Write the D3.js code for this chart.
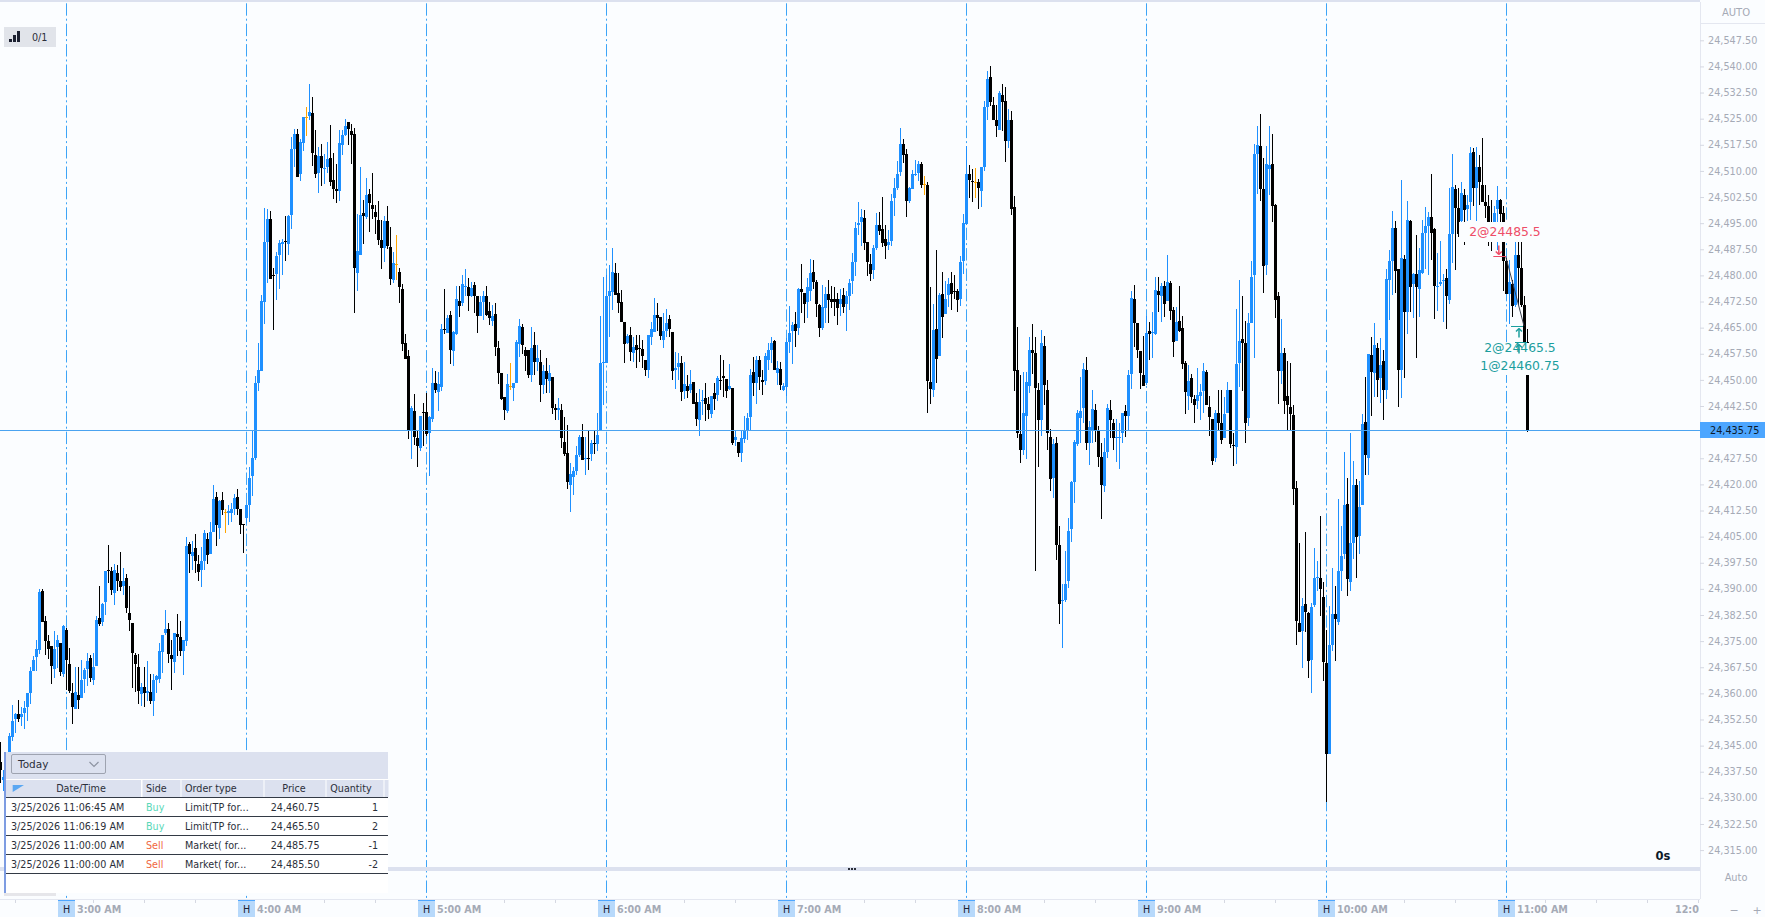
<html>
<head>
<title>NQ 1 minute chart</title>
<script src="https://d3js.org/d3.v7.min.js"></script>
<style>
  body { margin: 0; background: #fbfdff; overflow: hidden; }
  svg { display: block; font-family: "DejaVu Sans", sans-serif; }
  .y.axis .domain { stroke: none; }
  .y.axis line { stroke: #d5d8e2; }
  .y.axis text { fill: #a5aab6; font-size: 9.7px; font-family: "DejaVu Sans", sans-serif; }
  .cell { font-size: 9.6px; fill: #2b2f3a; }
</style>
</head>
<body>
<svg id="chart" width="1765" height="917"></svg>
<script>
// bars are [open, high, low, close], points above priceBase, one per minute
const priceBase = 24000;
const firstBar = new Date(2026, 2, 25, 2, 38);
const bars02 = [[340.3,346,334.3,338],[335,338,332,336],[336,339,334,338],[338,348.5,336,347.8],[347.5,356.7,346.2,352],[352.7,354.5,348.5,354.2],[354.2,358.1,351.9,352.7],[353.3,356,350.5,354],[354.3,357.7,349.8,355.8],[356.2,360,352,360],[360,367.7,357,366.5],[366.5,370.6,366.3,369.6],[370.3,375.4,366.3,372.8],[372.5,390,371.3,389],[389.4,390,380.6,380.6],[380.8,382.3,371.1,375.1],[375,376.8,369.9,372.8],[373.6,373.6,362.7,367.9],[367,378,364.4,372.8],[373.3,376.8,367.2,375.4],[374.5,374.5,365,366.2],[365.6,379.7,364.8,379.4]];
const bars03 = [[378.2,378.8,361,369.6],[368.5,373,360,360.7],[360.1,362.9,351.2,356.1],[355.6,367.5,355.5,360.3],[359.6,367.7,355.5,358.1],[358.7,369.6,358.6,363.9],[364.1,367.2,360,366.7],[366.9,371.5,362.2,369.3],[370.2,371.1,363.4,364.5],[363.9,371.5,362.4,367.6],[367.9,382.1,367.9,381.1],[381.7,390.9,379.2,380],[380.5,385.9,379.4,385.7],[386.3,395.2,382.5,395.2],[395.4,402.6,391.8,395],[395.1,396.2,388.3,389.7],[388.9,397.2,385.4,395.5],[394.6,396.9,389.4,392.3],[392.3,400.6,389.5,390.6],[390.9,396,388.3,392.3],[393.2,394.3,383,384.5],[383.1,390.9,377.8,381.1],[380.2,380.2,361.5,371.6],[371.1,371.5,360.5,368.5],[367.6,371.3,357,360.7],[359.9,362.9,356.4,361.9],[361.9,367.7,356,360.1],[360.2,369.3,357.8,360.7],[360.4,365.6,357,357.8],[357.8,365.6,353.6,363.9],[363.9,365.3,360,365],[364.2,374.6,363.1,372.2],[371.9,376.8,365.8,376.8],[377.4,384,376.8,378.5],[378.5,380.2,368.7,371.3],[371,375.4,361,369.9],[369,377.4,365.8,377.4],[377.1,382.8,370.8,376.2],[376.2,380.8,370.8,372.2],[372.2,375.4,365.3,375.4],[375.1,405,373.6,402.3],[402.9,403.5,394.6,400],[399.5,403.8,395.5,400.6],[401.8,405.8,394.6,398],[397.2,399.8,392.3,394.9],[395.5,402.1,390.6,398],[398,406.8,395.5,406.1],[404.4,406,397.2,399.8],[400,409.2,400,406.4],[406.4,419.9,406.4,415.8],[416.4,417.8,402.4,408.4],[407.5,415.6,404.4,415.3],[415.6,417.9,411.3,412.7],[412,413,406.1,412],[411.8,414.1,408.4,412.4],[411.8,414.6,409.3,413],[413,417.3,411.3,416.1],[416.4,418.7,411.3,412.9],[413,413,405.8,408.4],[408.7,408.7,400.4,408.2]];
const bars04 = [[410.4,414.1,409,414.1],[414.1,425.1,409.2,421.9],[422.5,435.7,416.7,427.6],[427.6,451.1,427,449.1],[449.1,460.5,446.9,452.9],[452.6,474.4,452.6,472.7],[472.4,499.4,466.1,489.6],[489.6,499.1,477.9,496.2],[496.2,498.5,479,479],[480.2,482.1,464.2,479.9],[480.4,486.8,472.8,485.6],[485.9,490.2,476.2,489.3],[489.1,490.5,480.1,489.6],[489.9,497.1,484,489.7],[489.1,497.4,485.9,497.1],[497.4,519.8,493.4,516.3],[516.3,522,511.2,520.6],[520.6,522,508.3,508.3],[509.1,519.2,507.1,518.3],[518.1,525.5,515.8,525.5],[525.4,528.4,520,525.4],[525.8,535,524.5,526.9],[526.7,531.2,511.4,515.2],[514.6,521.8,508,509.1],[509.4,516.9,503.7,514.3],[514.3,517.8,505.7,510.9],[510.6,514.9,506.3,510.9],[511.2,518.3,509.3,513.5],[513.7,523.2,505.7,506.8],[507.4,515.2,502,504.8],[504.8,512,500.9,504.3],[504.3,521.8,501.4,518],[517.5,521.8,514.6,520.3],[520.3,524.9,520,522.9],[524,524,517.5,522],[521.5,523.5,512,520.3],[520.6,522.3,469.2,482.2],[480.7,497.7,475.6,487],[485.9,511.2,485.9,497.4],[497.9,501.7,489.1,497.1],[496.8,508,496.2,503.1],[503.4,504.8,492.5,500.8],[500.2,509.4,496.2,499.1],[498.2,500.2,491.9,496.8],[495.9,501.4,488.8,490.2],[490.2,495.9,481.9,487.9],[487.9,497.1,483.9,495.6],[495.6,500,487.6,488.5],[488.2,493.9,477.3,479],[478.7,486.8,477.8,483.6],[483.2,491.6,478.7,483.2],[481,482.2,472.1,476.7],[476.1,477.6,458.3,460.3],[460.6,463.2,456,456],[456.9,458.6,433,435.7],[435.7,442.5,427.3,442],[441.1,446,431.3,433.6],[433.4,435.7,425.1,431.1],[430.5,439.7,429.7,439.7],[440.7,443.3,430.9,440.4]];
const bars05 = [[440.8,446.2,434,434.5],[434.7,439.5,422.3,439.3],[438.8,453.4,438,449.1],[449.1,452.6,446.2,447.1],[446.6,452.4,441,448.9],[448,466,446.8,464.6],[464.6,476.1,463.2,464.4],[463.5,468.7,463.4,467.8],[468.7,469.8,454.6,458.6],[458.3,463.9,454,463.8],[463.2,477,462.9,473.3],[472.7,477,468.1,471.3],[472.1,480.2,471.1,477.6],[476.8,481.9,474,477],[476.7,479.2,469.8,474.1],[474.1,478,473.9,476.4],[477.3,478,469.1,474.1],[474.1,474.1,463.5,468.4],[468.4,474.1,468.4,472.4],[472.4,475.4,467.2,474.1],[474.1,477,468.4,468.7],[469.8,472.4,465.8,467.8],[467,471.4,465.5,468.4],[469,472.2,456.9,459.5],[459.2,461.2,448.9,452],[452,452.1,444.3,444.6],[445.1,445.1,438.5,441.4],[441.1,451.7,440.5,448.8],[448.2,454.9,447.1,448.2],[447.7,449.1,444,449.1],[449.1,461.5,449.1,460.9],[460.3,467.5,456.6,465.5],[465.2,466.1,457.5,460],[458.6,459.5,452.6,456.9],[458.6,458.6,450.5,451.4],[451.4,465.2,449.4,459.2],[460,463.8,451.4,455.2],[455.2,460,452.6,456.3],[455.2,458.6,443.7,448.6],[448.6,454.3,446,452.6],[452.6,456.3,446.3,450.3],[449.7,454.3,446.3,452],[450.9,450.9,440.3,442],[442,443.1,438.5,441.4],[441.4,444.8,438.5,442],[441.4,443.1,430.5,433.4],[432.2,439.4,428.2,428.8],[429.1,437.1,418.7,420.7],[419.9,426.1,412,423],[422.2,425.1,417,423.9],[423.9,430.9,422.7,428.5],[428.5,434.2,428,433.6],[433.6,437.4,427,427],[427.2,433.7,422.7,427.6],[427.6,435.6,424.2,427.3],[428.8,432.8,426.8,431.9],[432,435.6,428.8,431.8],[431.6,440.4,429.7,434.2],[435.4,468.4,435.4,454.9],[454.8,479.6,442.8,455]];
const bars06 = [[454.9,480.2,454.9,474.1],[474.1,483,462.4,475.6],[475.3,487.9,470.1,481],[480.7,483.5,474.4,474.4],[475,480.6,469.1,472.1],[472.4,475.8,466.7,466.7],[466.7,466.7,454.9,460.3],[460.6,463.2,460.3,462.6],[462.9,465.2,455.5,458],[457.8,462.4,455.2,459.5],[460,462.9,453.5,458.7],[459.1,462.9,455.2,458.9],[458.9,461.5,453.5,456.9],[455.7,455.7,451.1,452.9],[452.9,462.9,450.6,462.9],[462.3,466.5,460,464.6],[463.8,473.5,463.8,468.7],[468.7,472,463.9,467.8],[468.1,468.2,461.5,462.6],[461.5,469.1,459.2,464.1],[464.1,470.4,462.4,466.4],[467.5,468.7,462.4,464.6],[463.8,463.8,450,452.6],[452.9,458.1,447.4,453.5],[453.7,457.7,450,454.9],[454.9,456.9,444,446.6],[446.8,455.2,444.5,448.8],[448.3,451.4,444.8,446.8],[447.1,452.7,446.2,448.8],[449.4,449.4,443.1,443.1],[443.7,446.2,436.8,438.8],[438.5,447.4,434,443.7],[444.1,447.1,440,444.3],[444.8,449.1,438.2,443.1],[443.1,445.2,438.8,441.4],[440.2,445.4,439,445.4],[446.3,449.1,441.4,444.6],[445.7,451.2,444,450.6],[450,457.2,447.1,449.7],[451.2,455.7,445.2,450.6],[450.3,450.3,444.8,446.8],[447.4,454.6,447.1,448.3],[447.7,447.7,431.3,431.9],[432.8,435.6,430.9,433.6],[432.2,432.2,428,429.1],[429.1,435.6,426.5,433.4],[433.1,439.5,431.8,435.6],[435.4,440.4,432.8,439.1],[439.4,453.1,435.2,451.4],[452.3,456.7,445.4,449.1],[449.1,456.9,443.1,455.7],[455.7,456.9,447.1,450.9],[450,452.9,445.7,449.4],[449.7,457.7,448.6,456.9],[455.7,460.5,452.9,458.6],[458.6,462.4,454.8,460.6],[461.2,461.5,452.9,452.9],[452,455.3,448.6,453.5],[453.2,455,447.1,448.6],[447.1,449.1,446.7,448.3]];
const bars07 = [[448,462,445.4,460.9],[460.9,471.3,457.7,463.5],[464.1,466.5,454.6,465.8],[466.1,469.5,459.5,464.1],[465,476.3,462.9,476.1],[476.1,483.3,469.1,475.3],[475,475,466.3,471.8],[472.4,479.2,467.7,476.7],[475.6,484.7,472.7,480.7],[481,484.5,476,478.1],[478.1,478.7,468.2,471.8],[471.5,471.8,462.4,465],[465,477.3,464.4,471],[470.7,476.8,466.3,474.7],[474.7,478.7,466.3,473],[473.3,477,470.6,472.4],[473.3,476.8,468.4,472.4],[473.3,474.9,465.8,470.7],[471.8,476,468.4,473.3],[474.4,476.3,469.1,471],[471.8,475.4,464.1,474.1],[474.1,479,470.1,477.8],[478.4,486.4,474.7,483.9],[483.9,495.4,479.7,493.6],[494.5,501.1,491.6,495.1],[495.4,499.1,488.3,496.8],[496.5,498.8,487.3,489.3],[489.6,489.6,479.9,483.9],[483.3,486.2,478.5,480.4],[481.6,488.8,479,487.9],[487.9,497.9,487.3,494.5],[494.5,498.1,491.6,492.8],[493.4,502.5,488.2,489.3],[490.5,494.5,484.7,488.5],[488.8,493.1,487.3,489.6],[489.9,503.4,488.3,501.4],[502.2,508,497.1,505.1],[505.1,512.9,504.6,509.1],[509.7,522.4,508.6,517.8],[517.8,519.2,512.3,514.6],[514.9,516.3,496.8,501.4],[501.4,505.5,500.7,505.1],[504.8,510.3,504.8,509.1],[508.9,513.2,508.4,509.1],[509.4,512.9,507.1,512],[512.1,512.5,505.1,506],[506.2,508.6,503.2,506.2],[506,506.7,440.6,449.6],[449.3,476.7,443,447.4],[447,471.8,445.2,464.4],[464.6,487.3,449,455.9],[456.8,474.9,456.8,474.3],[474.6,480.9,461.9,468],[469,478.4,469,473.2],[474.3,479.3,471,477.6],[477.8,480.9,470.2,474.6],[475.6,480.1,473.2,475.3],[475.5,476.2,469.6,473],[473.3,485.6,471.2,483.9],[484.2,497.6,480.4,495.1]];
const bars08 = [[494.7,517.1,494.6,509.2],[509.2,511.8,502.3,507.3],[507.2,510.6,501.2,507],[506.7,510.9,502.1,506.7],[506.9,507.6,499.2,505.1],[504.3,511.2,499.7,511.2],[511.2,530,510,528.4],[528.4,538.6,524.6,536.3],[537.1,540.1,528.7,529.7],[528.9,531.2,524.6,524.7],[524.7,528.9,519.6,522.8],[521.8,533,521.8,532.3],[531.7,535,521.6,529.7],[530,534.2,512.6,518.5],[518.5,527.9,516.6,524.6],[524.6,527.3,497.4,499.2],[499.7,502.9,446.8,452.6],[452.9,465.2,433.4,434.8],[434.6,451.5,426,430],[430,452.3,428.5,440.5],[439.7,452.3,427.4,449.5],[448.3,462.2,446.3,458.7],[458.7,466.1,451.6,457.8],[457.7,462.2,395.2,447.6],[447.2,449,424.9,438.6],[438.6,464.2,434,460.6],[459.8,462.6,442.8,448.6],[447.2,450.1,430,434.8],[433.7,435.9,418,421.6],[421.9,433.1,416.1,431.5],[431.8,433.7,398.2,402.7],[402.7,408.1,380,385.6],[386.4,391.4,373.1,386.9],[386.9,401,386.3,391.5],[392.2,410.4,390.3,406.6],[407.2,421,403.4,420.8],[420.7,432.6,414.7,432.2],[431.6,441.3,430.9,440.5],[439,450.9,432,441.1],[442,454.9,437.5,453.1],[452.9,456.7,430,432],[431.8,438.1,425.6,436.6],[435.5,447.2,432,441.7],[441.3,443,432.2,435.5],[435.3,436.9,424.9,427.9],[427.9,432,410,419.9],[419.4,433.3,417.7,429.4],[429.4,443,427.6,442],[441.3,444.3,433.3,438.4],[437.5,438.8,429.8,433.3],[433.3,438.8,426.5,433.7],[433.3,437.5,424.3,433.7],[434.7,440.6,432,440.5],[441.1,442.7,433.7,439.5],[439.7,452.9,435.3,451.5],[451.8,475.4,447.4,473.5],[473.2,477.3,459.5,466.3],[466.3,466.3,456.2,458.7],[458.4,458.4,447.3,452.1],[451.5,462.5,448.3,448.3]];
const bars09 = [[449,468.3,448.5,463.6],[464.1,466.5,455.6,463.3],[463.4,469.4,456.2,463.8],[463.1,479.5,462.8,475.8],[475.6,479.5,469.4,474.3],[474,477.8,466.5,477],[477,478.4,468,471.9],[472.7,485.8,472.7,478.1],[477.8,478.4,467.2,469.7],[470.2,471,456.7,460.8],[461.3,471,461.1,466.6],[466.8,477.1,463.7,464.1],[464.9,468.4,453,454.6],[454.9,455.5,440.1,446.4],[445.4,454.2,441.4,449.7],[450.6,451.7,443.4,445.1],[444.6,445.8,437.5,442.9],[443.8,453.3,441.7,445.8],[445.4,448.9,438.5,446.6],[446.9,454.9,440.4,452.6],[452.4,452.9,442.7,442.9],[442.2,445.4,433.9,439.4],[438.8,438.8,425.6,426.6],[427.6,441.4,426.5,440.5],[440.5,447,435.2,437.7],[437.7,447,431.5,432.8],[433.4,445.1,433.4,440.2],[440.5,449.4,440.5,447.1],[447.1,447.1,430.5,431.5],[431.4,434.8,425.2,431.1],[430.6,470.4,425.8,454.6],[454.9,478.6,448,461.2],[461.8,474.1,446.9,460.6],[460.6,466.8,431.8,437.7],[439.2,469.1,436.8,466.3],[466.3,484,466.3,479.6],[480.2,517.6,456.3,514.8],[514.8,522.8,503.4,517.5],[517.2,526.4,501.4,504.8],[504.8,513.6,475,482.7],[482.9,517.2,480,512.1],[510.6,522.8,503.1,511.8],[512.1,520.6,495.3,499.9],[500.3,500.6,467.8,473],[474,475.3,443,452.6],[452.6,467.5,448.9,457.6],[457.8,459.2,440.1,443.9],[445.4,455.5,435.2,442.9],[442.2,454.9,435.2,440.2],[439.9,442.7,414.2,418.6],[419,421,373.9,380.8],[380.2,403.2,377.5,377.6],[378,387.4,367.4,385],[385.6,406.3,377.7,383.3],[383,383.4,364.3,369.2],[369.7,386,360,384.8],[385.4,401.6,384.9,393.2],[393,397.9,389.3,393.3],[393.2,410.9,382.3,390.1],[387.8,392,363.5,368.9]];
const bars10 = [[368.8,378.1,328.7,342.5],[342.5,385.1,342.5,374],[374,395.9,372.2,382.7],[382.7,390.9,369.3,381.3],[380.5,415.9,379.7,395.1],[395.1,408,389.3,399.5],[400.1,429.3,398.6,414.1],[414.4,421.9,388,392.8],[392,434.8,389.3,403.2],[403.2,426.8,398.6,419.9],[419.9,421.6,393,405],[405.2,421,399.9,413.6],[414,440.2,414,437.3],[438,450.9,422.7,428.4],[427.7,457.5,422.7,457.5],[457.2,462.2,439.7,452.3],[452.1,466.3,445,460],[459.2,460.5,445.1,450],[450.6,462.1,443.4,454.3],[455.5,458.5,438.6,447],[447.2,481.9,444.4,479],[478.8,487.3,467.1,484.1],[484.1,498.5,474.4,493.6],[493.6,495.5,475,481.2],[481.8,481.8,442.1,452.9],[452.7,507.3,444.7,484.9],[484.8,485.8,450.6,469.4],[469.5,501.4,463.2,495.9],[495.6,495.9,469.5,476.6],[477.5,480.6,467.8,480.4],[480.4,491.6,456.3,476.6],[476.2,487.9,468,481.5],[480.6,495.9,480.3,492.2],[492.2,499.5,481.9,494.3],[494.3,498.2,480,496.8],[496.8,509.2,484.3,492.2],[493.4,493.7,467.6,476.9],[476.7,486.5,469.7,477],[477.5,490,477,478.2],[478.5,480.3,466.5,478.7],[479.2,481.9,464.5,474.1],[472.9,505.1,471.7,491.9],[492,514.8,483.5,505.3],[504.8,506,481.6,499.4],[499.3,505,491,491.9],[495.5,506.7,495,503.7],[503,504.7,488.6,498.8],[499.1,503,495.5,500.2],[501.2,516.9,496,515.2],[515.5,516.6,499.8,505.1],[505.1,516.9,495.5,511.2],[511.2,514.6,500.3,506.9],[506,519.4,501.2,501.2],[501.2,506,496.4,500],[500,503,488.3,492],[492,501.7,487,490],[490,499.8,490,497.9],[499.1,505.7,487.3,501.7],[501.7,502,490,497.7],[497.9,500,475.4,484.2]];
const bars11 = [[484.2,485,474.7,474.7],[474.7,484.5,466.1,478.1],[477.6,478.7,468.2,471.1],[471.5,489.7,471,485.9],[485.9,489.7,471.5,482.2],[482,489.7,471,471.5],[471.5,474.1,460.5,460.5],[461,464.5,435,435.75]];
const lastPrice = 24435.75;

const hourLabels = ["3:00 AM","4:00 AM","5:00 AM","6:00 AM","7:00 AM","8:00 AM","9:00 AM","10:00 AM","11:00 AM"];
// small ticks on the time axis, in minutes after 3:00
const minorTicks = [-17,9,26,43,86,103,146,163,206,223,266,283,326,343,386,403,446,463,493,510,527,544];

const fillTimes = ["3/25/2026 11:06:45 AM","3/25/2026 11:06:19 AM","3/25/2026 11:00:00 AM","3/25/2026 11:00:00 AM"];
const fillSides = ["Buy","Buy","Sell","Sell"];
const fillTypes = ["Limit(TP for...","Limit(TP for...","Market( for...","Market( for..."];
const fillPrices = ["24,460.75","24,465.50","24,485.75","24,485.50"];
const fillQty = ["1","2","-1","-2"];

const bars = [].concat(bars02, bars03, bars04, bars05, bars06, bars07, bars08, bars09, bars10, bars11);

const svg = d3.select("svg#chart");
const plotRight = 1700, plotBottom = 899;
const sepColor = "#dce1ef";

const barTime = i => d3.timeMinute.offset(firstBar, i);
const minuteTime = m => new Date(2026, 2, 25, 3, m);
const xScale = d3.scaleTime()
  .domain([new Date(2026, 2, 25, 3, 0), new Date(2026, 2, 25, 11, 0)])
  .range([66.3, 1506.3]);
const yScale = d3.scaleLinear().domain([24547.5, 24315]).range([40.3, 850.1]);
const py = p => Math.round(yScale(priceBase + p));

svg.append("rect").attr("width", 1765).attr("height", 917).attr("fill", "#fbfdff");
svg.append("rect").attr("width", 1765).attr("height", 2).attr("fill", sepColor);

// hour lines
const hourTimes = hourLabels.map((d, i) => minuteTime(i * 60));
svg.append("g").selectAll("line").data(hourTimes).join("line")
  .attr("x1", d => Math.floor(xScale(d)) + 0.5).attr("x2", d => Math.floor(xScale(d)) + 0.5)
  .attr("y1", 3.3).attr("y2", plotBottom - 1)
  .attr("stroke", "#3ea5f7").attr("stroke-dasharray", "12.4 3 2 3");

// candles
const candleColor = d => d[3] === d[0] ? "#ffa500" : (d[3] > d[0] ? "#1e90ff" : "#000");
const candles = svg.append("g").attr("class", "candles");
bars.forEach((d, i) => {
  const cx = Math.floor(xScale(barTime(i)));
  candles.append("rect")
    .attr("x", cx).attr("width", 1)
    .attr("y", py(d[1])).attr("height", Math.max(1, py(d[2]) - py(d[1])))
    .attr("fill", candleColor(d));
  const top = py(Math.max(d[0], d[3]));
  const bottom = py(Math.min(d[0], d[3]));
  candles.append("rect")
    .attr("x", cx - 1).attr("width", 3)
    .attr("y", top).attr("height", Math.max(1, bottom - top))
    .attr("fill", candleColor(d));
});

// trades
const tradeRed = "#ee4d68", tradeTeal = "#1b9e9e";
const lineAt = (x1, y1, x2, y2, color, w) => svg.append("line")
  .attr("x1", x1).attr("y1", y1).attr("x2", x2).attr("y2", y2)
  .attr("stroke", color).attr("stroke-width", w || 1);
const tradeX = xScale(minuteTime(479));
lineAt(1505.7, yScale(24485.5), 1524, yScale(24465.5), "#3a4150");
[[1459, 222, 81, 20], [1480, 343, 80, 32]].forEach(r => {
  svg.append("rect").attr("x", r[0]).attr("y", r[1]).attr("width", r[2]).attr("height", r[3]).attr("fill", "#fbfdff");
});
const tradeMark = (price, x1, x2, ax, color, up) => {
  const y = Math.round(yScale(price)) + 0.5;
  lineAt(x1, y, x2, y, color);
  const tip = up ? y + 2 : y - 2;
  const tail = up ? y + 11 : y - 11;
  lineAt(ax, tip, ax, tail, color, 1.5);
  lineAt(ax - 3, up ? tip + 3 : tip - 3, ax, tip, color, 1.5);
  lineAt(ax + 3, up ? tip + 3 : tip - 3, ax, tip, color, 1.5);
};
tradeMark(24485.5, tradeX - 10, tradeX + 3, tradeX - 4.5, tradeRed, false);
tradeMark(24465.5, 1511, 1523, 1519, tradeTeal, true);
tradeMark(24460.75, 1515, 1527, 1519, tradeTeal, true);
const tradeText = (s, x, y, color) => svg.append("text")
  .attr("x", x).attr("y", y).attr("text-anchor", "middle").attr("dominant-baseline", "central")
  .attr("font-size", 12.4).attr("fill", color).text(s);
tradeText("2@24485.5", 1505, 231.7, tradeRed);
tradeText("2@24465.5", 1520, 347.7, tradeTeal);
tradeText("1@24460.75", 1520, 365.5, tradeTeal);

// last price line
const lastY = Math.round(yScale(lastPrice)) + 0.5;
lineAt(0, lastY, plotRight, lastY, "#4aa3f0");

// right price axis
svg.append("rect").attr("x", plotRight).attr("width", 65).attr("height", 917).attr("fill", "#fbfdff");
lineAt(plotRight + 0.5, 2, plotRight + 0.5, plotBottom, "#e4e7f0");
lineAt(plotRight, 23.5, 1765, 23.5, "#e4e7f0");
const rightAxis = d3.axisRight(yScale)
  .tickValues(d3.range(24315, 24548, 7.5))
  .tickSize(4).tickPadding(4)
  .tickFormat(d3.format(",.2f"));
svg.append("g").attr("class", "y axis")
  .attr("transform", `translate(${plotRight},0)`)
  .call(rightAxis);
const greyText = (s, x, y, size) => svg.append("text")
  .attr("x", x).attr("y", y).attr("text-anchor", "middle").attr("dominant-baseline", "central")
  .attr("font-size", size).attr("fill", "#a5aab6").text(s);
greyText("AUTO", 1736, 12.5, 10);
greyText("Auto", 1736, 877.5, 9.8);
svg.append("rect").attr("x", plotRight).attr("y", lastY - 8.5).attr("width", 65).attr("height", 16).attr("fill", "#4da6ff");
svg.append("text").attr("x", 1710).attr("y", lastY).attr("dominant-baseline", "central")
  .attr("font-size", 9.7).attr("fill", "#0d1a2a").text(d3.format(",.2f")(lastPrice));

// pane separator
svg.append("rect").attr("y", 867).attr("width", plotRight).attr("height", 4).attr("fill", sepColor);
[848, 851, 854].forEach(x => svg.append("rect").attr("x", x).attr("y", 868).attr("width", 2).attr("height", 2).attr("fill", "#2b2f3a"));
svg.append("text").attr("x", 1663).attr("y", 856).attr("text-anchor", "middle").attr("dominant-baseline", "central")
  .attr("font-size", 11.5).attr("font-weight", "bold").attr("fill", "#0d1a2a").text("0s");

// time axis
const axisG = svg.append("g").attr("class", "x axis");
axisG.append("rect").attr("x", 0).attr("y", plotBottom).attr("width", 1765).attr("height", 18).attr("fill", "#fbfdff");
lineAt(0, plotBottom + 0.5, plotRight, plotBottom + 0.5, "#e4e7f0");
axisG.selectAll("line.minor").data(minorTicks).join("line").attr("class", "minor")
  .attr("x1", d => Math.floor(xScale(minuteTime(d))) + 0.5).attr("x2", d => Math.floor(xScale(minuteTime(d))) + 0.5)
  .attr("y1", plotBottom).attr("y2", plotBottom + 4).attr("stroke", "#d5d8e2");
hourLabels.forEach((label, i) => {
  const x = Math.floor(xScale(hourTimes[i]));
  axisG.append("rect").attr("x", x - 8).attr("y", 900).attr("width", 17).attr("height", 17).attr("fill", "#b7d9fb");
  axisG.append("rect").attr("x", x - 8).attr("y", 900).attr("width", 17).attr("height", 1).attr("fill", "#4da6ff");
  axisG.append("text").attr("x", x + 0.5).attr("y", 909).attr("text-anchor", "middle").attr("dominant-baseline", "central")
    .attr("font-size", 9.6).attr("fill", "#1c2030").text("H");
  axisG.append("text").attr("x", x + 11).attr("y", 909.5).attr("dominant-baseline", "central")
    .attr("font-size", 9.6).attr("font-weight", "bold").attr("fill", "#a5aab6").text(label);
});
svg.append("defs").append("clipPath").attr("id", "timeClip").append("rect").attr("width", 1699).attr("height", 917);
axisG.append("text").attr("clip-path", "url(#timeClip)").attr("x", 1675).attr("y", 909.5).attr("dominant-baseline", "central")
  .attr("font-size", 9.6).attr("font-weight", "bold").attr("fill", "#a5aab6").text("12:00 PM");
greyText("\u2212", 1734, 910.5, 11);
greyText("+", 1757, 910.5, 11);

// indicator chip
svg.append("rect").attr("x", 4).attr("y", 27).attr("width", 52).attr("height", 20).attr("fill", "#e1e4ea");
[[9, 3, 3], [13, 7, 3], [17, 11, 3]].forEach(b => {
  svg.append("rect").attr("x", b[0]).attr("y", 42 - b[1]).attr("width", b[2]).attr("height", b[1]).attr("fill", "#1c2030");
});
svg.append("text").attr("x", 32).attr("y", 37).attr("dominant-baseline", "central")
  .attr("font-size", 9.6).attr("fill", "#2b2f3a").text("0/1");

// fills table
const tbl = svg.append("g").attr("class", "fills");
tbl.append("rect").attr("x", 4).attr("y", 752).attr("width", 384).attr("height", 141).attr("fill", "#ffffff");
tbl.append("rect").attr("x", 4).attr("y", 752).attr("width", 2).attr("height", 141).attr("fill", "#7d9ce2");
tbl.append("rect").attr("x", 6).attr("y", 752).attr("width", 382).attr("height", 27).attr("fill", sepColor);
tbl.append("rect").attr("x", 4).attr("y", 893).attr("width", 52).attr("height", 3).attr("fill", "#e6e6ea");
tbl.append("rect").attr("x", 11.5).attr("y", 754.5).attr("width", 94).attr("height", 19).attr("rx", 1.5)
  .attr("fill", sepColor).attr("stroke", "#9ea3b0");
tbl.append("text").attr("x", 18).attr("y", 764).attr("dominant-baseline", "central")
  .attr("font-size", 10.5).attr("fill", "#2b2f3a").text("Today");
tbl.append("path").attr("d", "M89.5 762 L94 766.5 L98.5 762").attr("fill", "none").attr("stroke", "#8d93a1").attr("stroke-width", 1.2);
// header cells
const headX = [6, 142.5, 181.5, 264.5, 326.5, 384.5];
const headW = [135, 38, 82, 61, 57, 4];
headX.forEach((x, i) => {
  tbl.append("rect").attr("x", x).attr("y", 780).attr("width", headW[i]).attr("height", 17).attr("fill", sepColor);
});
const cellText = (s, x, y, anchor, color) => tbl.append("text").attr("class", "cell")
  .attr("x", x).attr("y", y).attr("text-anchor", anchor).attr("dominant-baseline", "central")
  .style("fill", color || null).text(s);
cellText("Date/Time", 81, 788, "middle");
cellText("Side", 146, 788, "start");
cellText("Order type", 185, 788, "start");
cellText("Price", 294, 788, "middle");
cellText("Quantity", 351, 788, "middle");
tbl.append("path").attr("d", "M12.7 785 L24 785 L12.7 792 Z").attr("fill", "#5aa7f2");
// rows
const sideColor = {Buy: "#5ad8b8", Sell: "#f0673e"};
lineAt(6, 797.5, 388, 797.5, "#333a45");
fillTimes.forEach((t, i) => {
  const y = 807 + i * 19;
  cellText(t, 11, y, "start");
  cellText(fillSides[i], 146, y, "start", sideColor[fillSides[i]]);
  cellText(fillTypes[i], 185, y, "start");
  cellText(fillPrices[i], 319.5, y, "end");
  cellText(fillQty[i], 378, y, "end");
  lineAt(6, 816.5 + i * 19, 388, 816.5 + i * 19, "#333a45");
});
</script>
</body>
</html>
